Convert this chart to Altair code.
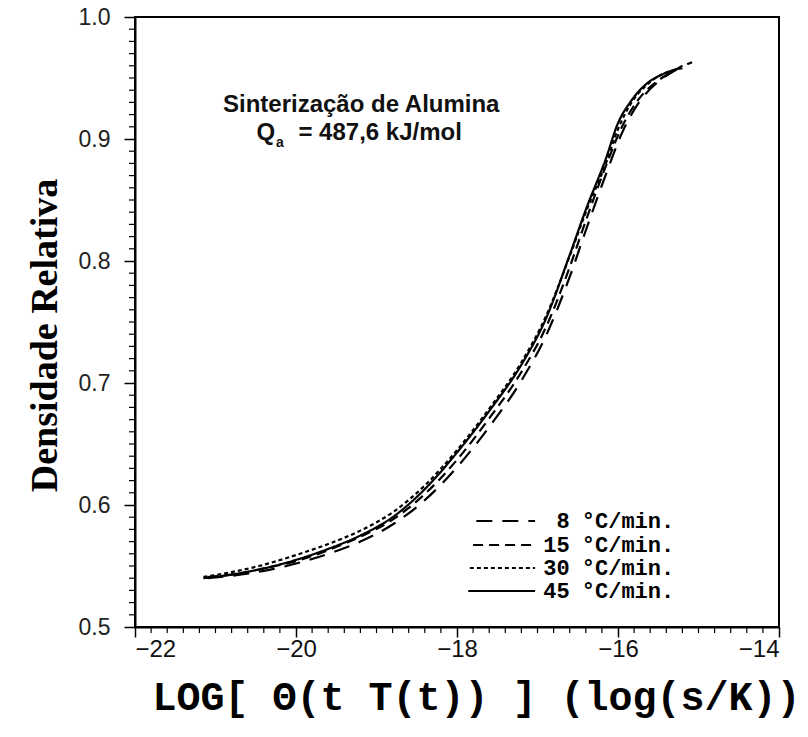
import altair as alt
import pandas as pd

# ---- data ----
SERIES = ["8", "15", "30", "45"]

X8 = [-21.1, -20.8, -20.4, -20.0, -19.6, -19.2, -18.8, -18.4, -18.0, -17.6, -17.2, -16.9, -16.6, -16.4, -16.15, -15.95, -15.75, -15.5, -15.3, -15.08]
Y8 = [0.540, 0.542, 0.546, 0.552, 0.560, 0.570, 0.584, 0.604, 0.631, 0.664, 0.702, 0.738, 0.787, 0.825, 0.871, 0.905, 0.929, 0.947, 0.956, 0.963]

X15 = [-21.1, -20.8, -20.4, -20.0, -19.6, -19.2, -18.8, -18.4, -18.0, -17.6, -17.2, -16.9, -16.6, -16.4, -16.15, -15.95, -15.75, -15.5, -15.3, -15.18]
Y15 = [0.541, 0.543, 0.548, 0.554, 0.563, 0.574, 0.588, 0.609, 0.637, 0.671, 0.709, 0.745, 0.795, 0.833, 0.878, 0.910, 0.932, 0.948, 0.956, 0.961]

X30 = [-21.15, -20.8, -20.4, -20.0, -19.6, -19.2, -18.8, -18.4, -18.0, -17.6, -17.2, -16.9, -16.6, -16.4, -16.15, -16.0, -15.85, -15.65, -15.45, -15.2]
Y30 = [0.541, 0.545, 0.551, 0.559, 0.568, 0.579, 0.594, 0.616, 0.645, 0.679, 0.717, 0.754, 0.804, 0.840, 0.880, 0.908, 0.928, 0.944, 0.953, 0.958]

X45 = [-21.15, -20.8, -20.4, -20.0, -19.6, -19.2, -18.8, -18.4, -18.0, -17.6, -17.2, -16.9, -16.6, -16.4, -16.15, -16.0, -15.85, -15.65, -15.45, -15.28]
Y45 = [0.540, 0.543, 0.548, 0.555, 0.564, 0.575, 0.590, 0.613, 0.643, 0.677, 0.715, 0.752, 0.805, 0.842, 0.884, 0.913, 0.930, 0.945, 0.953, 0.957]

X_TICKS = [-22, -20, -18, -16, -14]
Y_TICKS = [0.5, 0.6, 0.7, 0.8, 0.9, 1.0]

LEGEND_NUM = ["8", "15", "30", "45"]
LEGEND_UNIT = "°C/min."

TITLE_1 = "Sinterização de Alumina"
TITLE_2 = "= 487,6 kJ/mol"
X_TITLE = "LOG[ Θ(t T(t)) ] (log(s/K))"
Y_TITLE = "Densidade Relativa"

DASHES = [[16, 10], [10, 6], [4, 3], [1, 0]]

# ---- tables ----
rows = []
for s, xs_, ys_ in zip(SERIES, [X8, X15, X30, X45], [Y8, Y15, Y30, Y45]):
    for i, (a, b) in enumerate(zip(xs_, ys_)):
        rows.append({"x": a, "y": b, "s": s, "i": i})
curves = pd.DataFrame(rows)

minor_x = pd.DataFrame({"v": [round(-22 + 0.2 * k, 2) for k in range(1, 40) if k % 10 != 0]})
minor_y = pd.DataFrame({"v": [round(0.5 + 0.01 * k, 3) for k in range(1, 50) if k % 10 != 0]})

leg = pd.DataFrame({
    "s": SERIES,
    "num": LEGEND_NUM,
    "unit": [LEGEND_UNIT] * 4,
    "x1": [-17.76, -17.80, -17.84, -17.86],
    "x2": [-17.03] * 4,
    "xn": [-16.60] * 4,
    "xu": [-16.45] * 4,
    "y": [0.5869, 0.5672, 0.5484, 0.5295],
})

notes = pd.DataFrame({
    "t": [TITLE_1, "Q", "a", TITLE_2],
    "x": [-19.19, -20.49, -20.25, -19.97],
    "y": [0.9279, 0.9049, 0.8968, 0.9049],
})

xs = alt.Scale(domain=[-22, -14], nice=False, zero=False)
ys = alt.Scale(domain=[0.5, 1.0], nice=False, zero=False)

W, H = 644, 610

lines = alt.Chart(curves).mark_line(color="black", strokeWidth=2.2, interpolate="monotone").encode(
    x=alt.X("x:Q", scale=xs, axis=alt.Axis(
        values=X_TICKS, format="d", grid=False, tickSize=10, tickWidth=1.5,
        tickColor="black", domainColor="black", domainWidth=2,
        labelFont="Liberation Sans", labelFontSize=24, labelColor="#111",
        labelPadding=0, title=X_TITLE, titleFont="Liberation Mono",
        titleFontSize=40, titleFontWeight="bold", titleColor="black",
        titleX=341, titleY=70, titleAlign="center", titleBaseline="middle")),
    y=alt.Y("y:Q", scale=ys, axis=alt.Axis(
        values=Y_TICKS, format=".1f", grid=False, tickSize=11, tickWidth=1.5,
        tickColor="black", domainColor="black", domainWidth=2,
        labelFont="Liberation Sans", labelFontSize=23, labelColor="#222",
        labelPadding=14, title=Y_TITLE, titleFont="Liberation Serif",
        titleFontSize=38, titleFontWeight="bold", titleColor="black",
        titleAngle=270, titleX=-90, titleY=318, titleAlign="center",
        titleBaseline="middle")),
    strokeDash=alt.StrokeDash("s:N", scale=alt.Scale(domain=SERIES, range=DASHES), legend=None),
    order="i:Q",
)

mx = alt.Chart(minor_x).mark_rule(color="black", strokeWidth=1.2).encode(
    x=alt.X("v:Q", scale=xs), y=alt.value(H), y2=alt.value(H + 6))
my = alt.Chart(minor_y).mark_rule(color="black", strokeWidth=1.2).encode(
    y=alt.Y("v:Q", scale=ys), x=alt.value(0), x2=alt.value(-6))

leg_lines = alt.Chart(leg).mark_rule(color="black", strokeWidth=2).encode(
    x=alt.X("x1:Q", scale=xs), x2="x2:Q", y=alt.Y("y:Q", scale=ys),
    strokeDash=alt.StrokeDash("s:N", scale=alt.Scale(domain=SERIES, range=DASHES), legend=None))
leg_num = alt.Chart(leg).mark_text(font="Liberation Mono", fontSize=22, fontWeight="bold",
                                    align="right", baseline="middle", color="black").encode(
    x=alt.X("xn:Q", scale=xs), y=alt.Y("y:Q", scale=ys), text="num:N")
leg_unit = alt.Chart(leg).mark_text(font="Liberation Mono", fontSize=22, fontWeight="bold",
                                     align="left", baseline="middle", color="black").encode(
    x=alt.X("xu:Q", scale=xs), y=alt.Y("y:Q", scale=ys), text="unit:N")

n1 = alt.Chart(notes.iloc[[0]]).mark_text(font="Liberation Sans", fontSize=24, fontWeight="bold",
                                          align="center", baseline="middle", color="#111").encode(
    x=alt.X("x:Q", scale=xs), y=alt.Y("y:Q", scale=ys), text="t:N")
n2 = alt.Chart(notes.iloc[[1]]).mark_text(font="Liberation Sans", fontSize=24, fontWeight="bold",
                                          align="left", baseline="middle", color="#111").encode(
    x=alt.X("x:Q", scale=xs), y=alt.Y("y:Q", scale=ys), text="t:N")
n3 = alt.Chart(notes.iloc[[2]]).mark_text(font="Liberation Sans", fontSize=14, fontWeight="bold",
                                          align="left", baseline="middle", color="#111").encode(
    x=alt.X("x:Q", scale=xs), y=alt.Y("y:Q", scale=ys), text="t:N")
n4 = alt.Chart(notes.iloc[[3]]).mark_text(font="Liberation Sans", fontSize=24, fontWeight="bold",
                                          align="left", baseline="middle", color="#111").encode(
    x=alt.X("x:Q", scale=xs), y=alt.Y("y:Q", scale=ys), text="t:N")

chart = alt.layer(lines, mx, my, leg_lines, leg_num, leg_unit, n1, n2, n3, n4).properties(
    width=W, height=H,
    padding={"left": 135, "top": 17, "right": 29, "bottom": 110},
    autosize=alt.AutoSizeParams(type="none"),
    background="white",
).configure_view(stroke="black", strokeWidth=2)

chart.save("out.html", embed_options={"renderer": "svg", "actions": False})
